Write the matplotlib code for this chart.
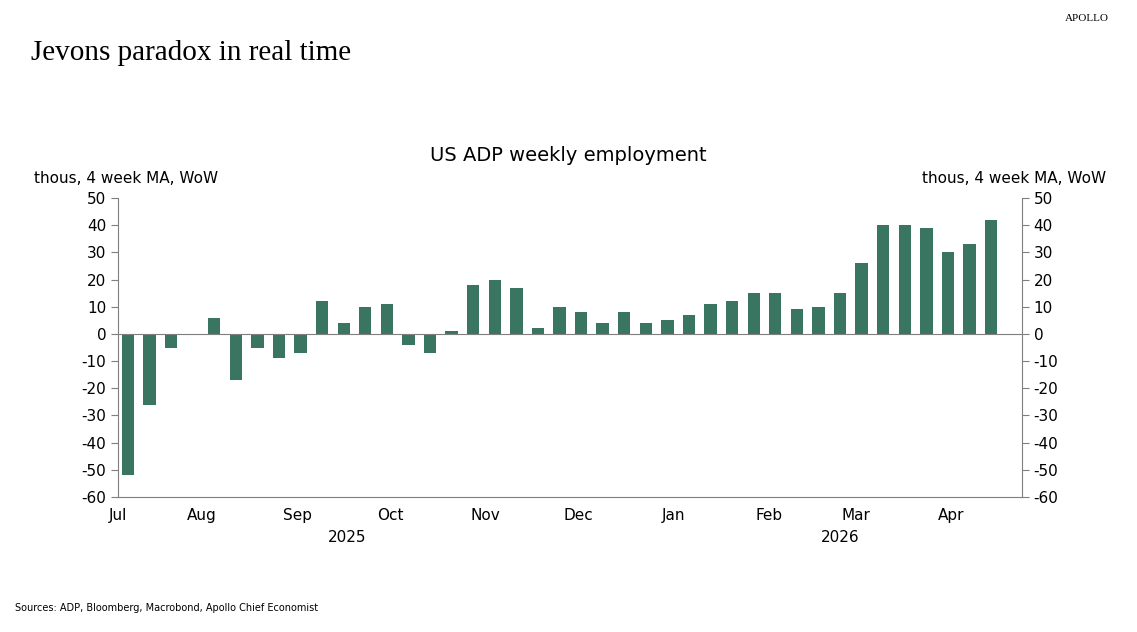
import numpy as np
import pandas as pd
import matplotlib
matplotlib.use("Agg")
import matplotlib.pyplot as plt

plt.rcParams["axes.unicode_minus"] = False

# weekly values, thous, 4 week MA, WoW
semanas = pd.date_range("2025-07-08", periods=41, freq="7D")
valores = [-52, -26, -5, 0, 6, -17, -5, -9, -7, 12, 4, 10, 11, -4, -7, 1,
           18, 20, 17, 2, 10, 8, 4, 8, 4, 5, 7, 11, 12, 15, 15, 9, 10, 15,
           26, 40, 40, 39, 30, 33, 42]
meses = pd.date_range("2025-08-01", "2026-04-01", freq="MS")
cor = "#3a7561"
cinza = "#7f7f7f"

fig = plt.figure(figsize=(11.37, 6.32), dpi=100)
ax = fig.add_axes([0.1038, 0.2136, 0.795, 0.4731])
ax.bar(semanas, valores, width=4.0, color=cor)
ax.axhline(0, color=cinza, lw=0.8)
ax.set_ylim(-60, 50)
ax.set_yticks(range(-60, 51, 10))
esq = semanas[0] - pd.Timedelta(days=3.2)
dir_ = semanas[-1] + pd.Timedelta(days=10)
ax.set_xlim(esq, dir_)
ax.set_xticks([esq] + list(meses))
ax.set_xticklabels(["Jul"] + [m.strftime("%b") for m in meses])
ax.spines["top"].set_visible(False)
for s in ["left", "right", "bottom"]:
    ax.spines[s].set_color(cinza)
ax.tick_params(axis="y", which="both", left=True, right=True, labelleft=True,
               labelright=True, color=cinza, labelsize=11, length=5)
ax.tick_params(axis="x", color=cinza, labelsize=11, length=0, pad=8)

ax.text(pd.Timestamp("2025-09-17"), -72, "2025", ha="center", va="top", fontsize=11)
ax.text(pd.Timestamp("2026-02-24"), -72, "2026", ha="center", va="top", fontsize=11)

fig.text(0.5, 0.745, "US ADP weekly employment", ha="center", fontsize=14)
fig.text(0.03, 0.71, "thous, 4 week MA, WoW", fontsize=11)
fig.text(0.973, 0.71, "thous, 4 week MA, WoW", fontsize=11, ha="right")
fig.text(0.027, 0.905, "Jevons paradox in real time", fontsize=21,
         family="Liberation Serif")
fig.text(0.975, 0.966, "APOLLO", fontsize=8, ha="right",
         family="Liberation Serif")
fig.text(0.013, 0.033, "Sources: ADP, Bloomberg, Macrobond, Apollo Chief Economist",
         fontsize=7)
fig.savefig("out.png", dpi=100)
